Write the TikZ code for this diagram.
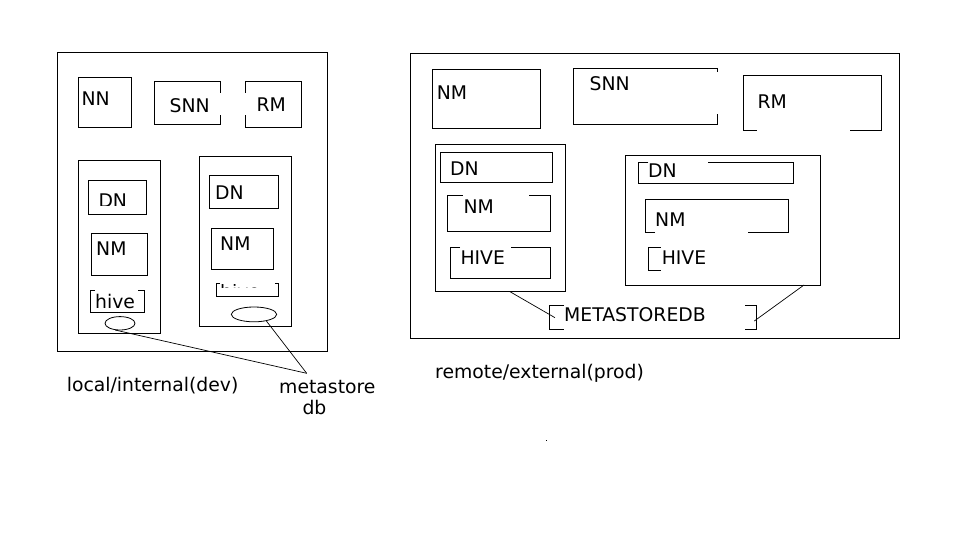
\documentclass[tikz,border=0pt]{standalone}
\usepackage{fontspec}
\setmainfont{DejaVu Sans}
\usetikzlibrary{shapes.geometric}
\begin{document}
\begin{tikzpicture}[x=1pt,y=-1pt,
  bx/.style={draw=black,line width=0.9pt},
  gp/.style={line width=0.9pt},
  cn/.style={line width=0.7pt},
  lbl/.style={anchor=base west,inner sep=0pt,font=\fontsize{18.8}{22}\selectfont},
  ell/.style={draw=black,line width=0.8pt,ellipse,inner sep=0pt}]
\useasboundingbox (0,0) rectangle (957,534);
% ---------- left panel ----------
\draw[bx] (57.3,52.3) rectangle (327.3,351.7);
\draw[bx] (78.3,77.3) rectangle (131.7,127.3);
\node[lbl] (nnL) at (81.3,105.5) {NN};
\draw[gp] (220.7,92.7) -- (220.7,81) -- (154.3,81) -- (154.3,124.3) -- (220.7,124.3) -- (220.7,115);
\node[lbl] (snnL) at (169.5,112.3) {SNN};
\draw[gp] (245.3,92.7) -- (245.3,81) -- (301.7,81) -- (301.7,127.3) -- (245.3,127.3) -- (245.3,115);
\node[lbl] (rmL) at (256.3,112) {RM};
% column 1
\draw[bx] (78.3,160.3) rectangle (160.3,333);
\draw[bx] (88.3,180) rectangle (146.7,214.3);
\begin{scope}
\clip (89,181) rectangle (146,205.3);
\node[lbl] (dnL1) at (98.3,207.3) {DN};
\end{scope}
\draw[bx] (91.3,233.3) rectangle (147.7,275);
\node[lbl] (nmL1) at (96,255.7) {NM};
\draw[gp] (95,290) -- (90.3,290) -- (90.3,312.3) -- (144.7,312.3) -- (144.7,290) -- (138.3,290);
\node[lbl] (hiveL1) at (95,308.3) {hive};
\node[ell,minimum width=30pt,minimum height=13.4pt] (e1) at (120,323.3) {};
% column 2
\draw[bx] (199.3,156.3) rectangle (291.7,326.3);
\draw[bx] (209.3,175.3) rectangle (278.7,208.3);
\node[lbl] (dnL2) at (215,200) {DN};
\draw[bx] (211.3,228) rectangle (273.7,269.3);
\node[lbl] (nmL2) at (220,251) {NM};
\draw[gp] (220,283.3) -- (216.3,283.3) -- (216.3,296.3) -- (278.7,296.3) -- (278.7,283.3) -- (275,283.3);
\begin{scope}
\clip (217.5,284.2) rectangle (277.5,287.9);
\node[lbl] (hiveL2) at (220,298.6) {hive};
\end{scope}
\node[ell,minimum width=45.4pt,minimum height=14.8pt] (e2) at (254,314.4) {};
% metastore db
\coordinate (msL) at (306.7,373.3);
\draw[cn] (e1.-125) -- (msL);
\draw[cn] (e2.-28) -- (msL);
\node[lbl] (lblLocal) at (66.6,391) {local/internal(dev)};
\node[lbl] (lblMeta) at (279,393) {metastore};
\node[lbl] (lblDb) at (302.3,414) {db};
% ---------- right panel ----------
\draw[bx] (410,53.3) rectangle (899,338.3);
\draw[bx] (432.3,69.3) rectangle (540.7,128.3);
\node[lbl] (nmR) at (436.6,100) {NM};
\draw[gp] (717.7,71.7) -- (717.7,68.3) -- (573.3,68.3) -- (573.3,124.3) -- (717.7,124.3) -- (717.7,114);
\node[lbl] (snnR) at (589.5,91) {SNN};
\draw[gp] (756.7,130.3) -- (743.3,130.3) -- (743.3,75.3) -- (881.7,75.3) -- (881.7,130.3) -- (850,130.3);
\node[lbl] (rmR) at (757.3,108.3) {RM};
% node left
\draw[bx] (435.3,144.3) rectangle (565.7,291.7);
\draw[bx] (440.3,152.3) rectangle (552.7,182.3);
\node[lbl] (dnR1) at (450,175.7) {DN};
\draw[gp] (462.7,195.3) -- (447.3,195.3) -- (447.3,231.3) -- (550.7,231.3) -- (550.7,195.3) -- (529.3,195.3);
\node[lbl] (nmR1) at (463.3,213.3) {NM};
\draw[gp] (460,247) -- (450.3,247) -- (450.3,278.3) -- (550.7,278.3) -- (550.7,247) -- (511,247);
\node[lbl] (hiveR1) at (460.3,265) {HIVE};
% node right
\draw[bx] (625.7,155.3) rectangle (820.7,285);
\draw[gp] (648.3,162.3) -- (638.3,162.3) -- (638.3,183) -- (793.7,183) -- (793.7,162.3) -- (708.3,162.3);
\node[lbl] (dnR2) at (648,177.7) {DN};
\draw[gp] (655,232.3) -- (645.3,232.3) -- (645.3,199.3) -- (788.7,199.3) -- (788.7,232.3) -- (747.7,232.3);
\node[lbl] (nmR2) at (655,226.7) {NM};
\draw[gp] (660.7,247) -- (648.3,247) -- (648.3,270.3) -- (660.7,270.3);
\node[lbl] (hiveR2) at (661.6,265) {HIVE};
% metastoredb
\draw[gp] (564,305.3) -- (549.3,305.3) -- (549.3,329.3) -- (564,329.3);
\draw[gp] (745,305.3) -- (756.3,305.3) -- (756.3,329.3) -- (745,329.3);
\node[lbl] (msdb) at (564,321.7) {METASTOREDB};
\coordinate (nLb) at (510,291.7);
\coordinate (nRb) at (804,285);
\coordinate (msdbL) at (555,317.7);
\coordinate (msdbR) at (754.3,321);
\draw[cn] (nLb) -- (msdbL);
\draw[cn] (nRb) -- (msdbR);
\node[lbl] (lblRemote) at (435,378.5) {remote/external(prod)};
\fill (545.5,439.5) rectangle (546.7,440.7);
\end{tikzpicture}
\end{document}
